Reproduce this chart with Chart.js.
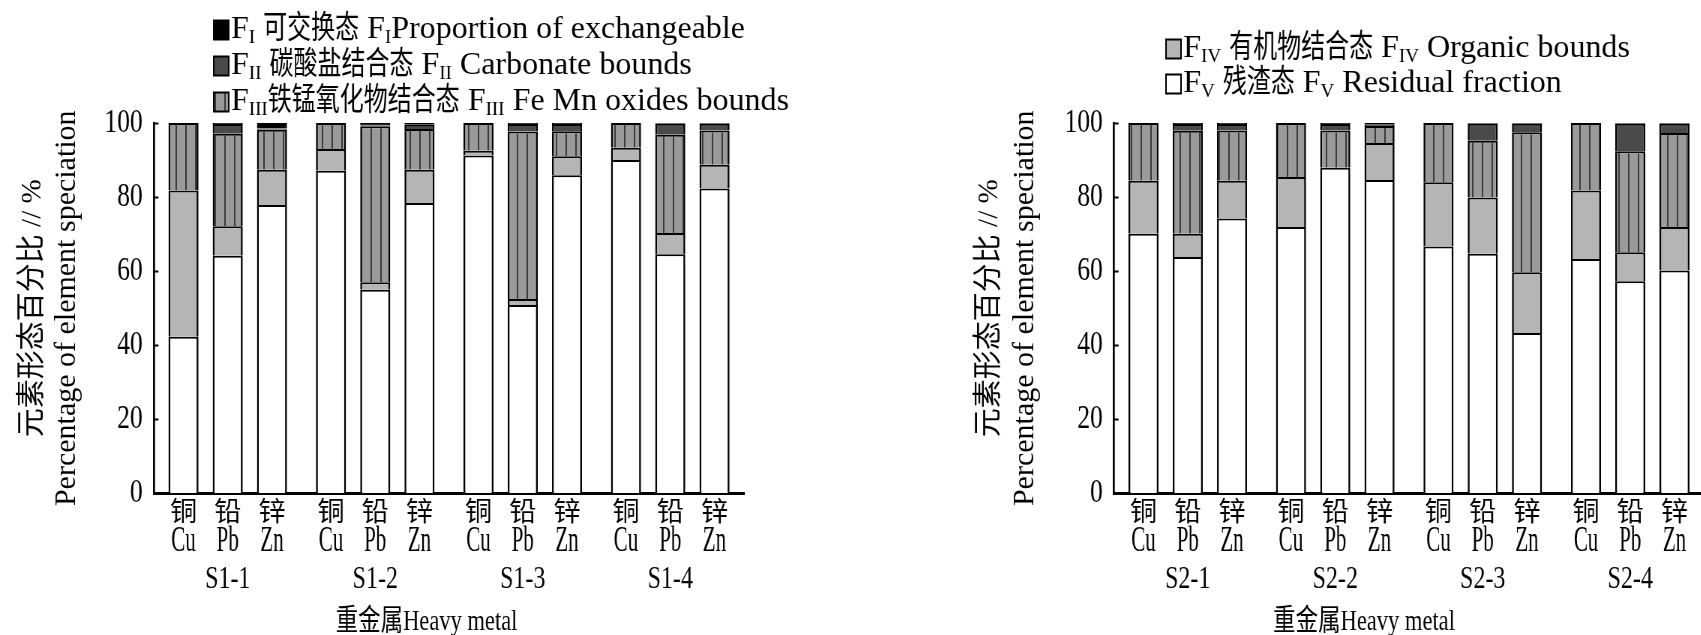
<!DOCTYPE html>
<html>
<head>
<meta charset="utf-8">
<script src="https://cdn.jsdelivr.net/npm/chart.js@4.4.1/dist/chart.umd.min.js"></script>
<style>
  html, body { margin: 0; padding: 0; background: #fff; overflow: hidden; width: 1701px; height: 635px; }
  canvas { position: absolute; top: 0; }
</style>
</head>
<body>
<!-- canvases are drawn wider than shown, so the latin type comes out narrow like the original print -->
<canvas id="chartS1" width="1136" height="635" style="left:0;width:852px;height:635px"></canvas>
<canvas id="chartS2" width="1152" height="635" style="left:848px;width:864px;height:635px"></canvas>
<script>
// categories
var sites1 = ["S1-1", "S1-2", "S1-3", "S1-4"];
var sites2 = ["S2-1", "S2-2", "S2-3", "S2-4"];
var metalsCn = ["铜", "铅", "锌"];
var metalsEn = ["Cu", "Pb", "Zn"];
var yTicks = [0, 20, 40, 60, 80, 100];

// percentages, one value per bar: S?-1 Cu,Pb,Zn, S?-2 Cu,Pb,Zn, ...
var s1FV   = [42.3, 64.2, 77.9, 87.1, 55.0, 78.4, 91.2, 50.9, 85.9, 90.0, 64.6, 82.3];
var s1FIV  = [39.5, 7.9, 9.5, 5.9, 2.0, 9.0, 1.3, 1.6, 5.1, 3.3, 5.7, 6.4];
var s1FIII = [18.2, 25.0, 10.8, 7.0, 42.1, 11.0, 7.5, 45.2, 6.8, 6.7, 26.5, 9.3];
var s1FII  = [0, 2.6, 0.3, 0, 0.2, 1.1, 0, 2.0, 1.9, 0, 3.0, 1.8];
var s1FI   = [0, 0.3, 1.5, 0, 0.7, 0.5, 0, 0.3, 0.3, 0, 0.2, 0.2];

var s2FV   = [70.1, 63.8, 74.2, 71.9, 87.9, 84.6, 66.7, 64.7, 43.3, 63.3, 57.3, 60.2];
var s2FIV  = [14.3, 6.3, 10.2, 13.5, 0, 10.0, 17.3, 15.2, 16.4, 18.5, 7.8, 11.7];
var s2FIII = [15.6, 27.8, 13.6, 14.6, 10.1, 4.6, 16.0, 15.3, 37.8, 18.2, 27.3, 25.4];
var s2FII  = [0, 1.8, 1.7, 0, 1.7, 0.3, 0, 4.6, 2.3, 0, 7.4, 2.5];
var s2FI   = [0, 0.3, 0.3, 0, 0.3, 0.5, 0, 0.2, 0.2, 0, 0.2, 0.2];

// legend texts, _{..} is a subscript
var legendFI   = "F_{I} 可交换态 F_{I}Proportion of exchangeable";
var legendFII  = "F_{II} 碳酸盐结合态 F_{II} Carbonate bounds";
var legendFIII = "F_{III}铁锰氧化物结合态 F_{III} Fe Mn oxides bounds";
var legendFIV  = "F_{IV} 有机物结合态 F_{IV} Organic bounds";
var legendFV   = "F_{V} 残渣态 F_{V} Residual fraction";

var yTitle = ["元素形态百分比 // %", "Percentage of element speciation"];
var xTitle = "重金属Heavy metal";

var FONT = "'Liberation Serif', 'Noto Sans CJK SC', serif";
var SX = 0.75; // shown width / canvas width

// vertical line fill for F III
function hatch(ctx) {
    var c = document.createElement('canvas');
    c.width = 13;
    c.height = 4;
    var g = c.getContext('2d');
    g.fillStyle = '#9a9a9a';
    g.fillRect(0, 0, 13, 4);
    g.fillStyle = '#3a3a3a';
    g.fillRect(0, 0, 2, 4);
    return ctx.createPattern(c, 'repeat');
}

// draw one piece of text with its own horizontal stretch, returns its width
function drawText(ctx, text, x, y, size, stretch, align) {
    ctx.save();
    ctx.translate(x, y);
    ctx.scale(stretch, 1);
    ctx.font = size + 'px ' + FONT;
    ctx.textAlign = align || 'left';
    ctx.fillText(text, 0, 0);
    var w = ctx.measureText(text).width * stretch;
    ctx.restore();
    return w;
}

// legend line: latin kept wide, chinese narrow, subscripts small
function drawRich(ctx, str, x, y) {
    str.split(/(_\{[^}]*\})/).forEach(function(p) {
        if (!p) return;
        if (p.charAt(0) === '_') {
            x += drawText(ctx, p.slice(2, -1), x, y + 8, 19, 1 / SX);
            return;
        }
        p.split(/([\u4e00-\u9fff]+)/).forEach(function(q) {
            if (!q) return;
            if (/[\u4e00-\u9fff]/.test(q)) x += drawText(ctx, q, x, y, 32, 1);
            else x += drawText(ctx, q, x, y, 32, 1 / SX);
        });
    });
}

// metal names, axis titles and legend
var extraPlugin = {
    id: 'extras',
    afterDraw: function(chart, args, opts) {
        var ctx = chart.ctx;
        var area = chart.chartArea;
        ctx.save();
        ctx.fillStyle = '#000';
        ctx.textBaseline = 'middle';
        metalsEn.forEach(function(m, k) {
            chart.getDatasetMeta(k * opts.nFrac).data.forEach(function(bar) {
                drawText(ctx, metalsCn[k], bar.x, 514, 27, 1 / SX, 'center');
                drawText(ctx, m, bar.x, 542, 35, 0.8, 'center');
            });
        });
        // x title
        drawText(ctx, xTitle, (area.left + area.right) / 2 + opts.xTitleShift, 622, 30, 1, 'center');
        // y title, two rotated lines
        var yMid = (area.top + area.bottom) / 2;
        [[yTitle[0], opts.yTitleX[0], 29], [yTitle[1], opts.yTitleX[1], 30]].forEach(function(t) {
            ctx.save();
            ctx.translate(t[1], yMid);
            ctx.scale(1 / SX, 1);
            ctx.rotate(-Math.PI / 2);
            ctx.font = t[2] + 'px ' + FONT;
            ctx.textAlign = 'center';
            ctx.fillText(t[0], 0, 0);
            ctx.restore();
        });
        // legend
        opts.items.forEach(function(it, i) {
            var y = opts.y + i * opts.dy;
            ctx.fillStyle = chart.data.datasets[it.ds].backgroundColor;
            ctx.fillRect(opts.x, y - 9.5, 20, 19);
            ctx.strokeStyle = '#000';
            ctx.lineWidth = 2;
            ctx.strokeRect(opts.x, y - 9.5, 20, 19);
            ctx.fillStyle = '#000';
            drawRich(ctx, it.text, opts.x + 23, y);
        });
        ctx.restore();
    }
};

function buildChart(id, sites, fracs, legendItems, L) {
    var ctx = document.getElementById(id).getContext('2d');
    var colors = ['#ffffff', '#b5b5b5', hatch(ctx), '#4a4a4a', '#000000'];
    var datasets = [];
    metalsEn.forEach(function(m, k) {
        fracs.forEach(function(arr, j) {
            datasets.push({
                label: m + ' ' + j,
                stack: m,
                data: sites.map(function(s, i) { return arr[i * 3 + k]; }),
                backgroundColor: colors[j],
                borderColor: '#000',
                borderWidth: {top: 2, left: 2.6, right: 2.6, bottom: 0},
                categoryPercentage: 0.9,
                barPercentage: 0.68
            });
        });
    });
    return new Chart(ctx, {
        type: 'bar',
        data: {labels: sites, datasets: datasets},
        plugins: [extraPlugin],
        options: {
            responsive: false,
            animation: false,
            devicePixelRatio: 1,
            layout: {padding: {left: 0, right: L.padRight, top: 123, bottom: 0}},
            plugins: {
                legend: {display: false},
                tooltip: {enabled: false},
                extras: {
                    nFrac: fracs.length, items: legendItems, x: L.legX, y: L.legY, dy: L.legDy,
                    yTitleX: L.yTitleX, xTitleShift: L.xTitleShift
                }
            },
            scales: {
                x: {
                    stacked: true,
                    grid: {display: true, drawOnChartArea: false, drawTicks: false},
                    border: {color: '#000', width: 3},
                    ticks: {color: '#000', font: {family: FONT, size: 32}, padding: 67, maxRotation: 0, autoSkip: false},
                    afterFit: function(s) { s.height = 635 - 493.5; s.paddingLeft = 0; s.paddingRight = 0; }
                },
                y: {
                    stacked: true,
                    min: 0,
                    max: 100,
                    afterBuildTicks: function(s) { s.ticks = yTicks.map(function(v) { return {value: v}; }); },
                    ticks: {color: '#000', font: {family: FONT, size: 34}, padding: 21},
                    grid: {drawOnChartArea: false, drawTicks: true, tickLength: -6, tickWidth: 2, tickColor: '#000'},
                    border: {color: '#000', width: 2.7},
                    afterFit: function(s) { s.width = L.yWidth; s.paddingTop = 0; s.paddingBottom = 0; }
                }
            }
        }
    });
}

// S1 chart (left)
var chartS1 = buildChart('chartS1', sites1, [s1FV, s1FIV, s1FIII, s1FII, s1FI], [
    {ds: 4, text: legendFI},
    {ds: 3, text: legendFII},
    {ds: 2, text: legendFIII}
], {padRight: 144, yWidth: 205.3, yTitleX: [43.4, 89.7], xTitleShift: -30, legX: 285, legY: 30, legDy: 36});

// S2 chart (right)
var chartS2 = buildChart('chartS2', sites2, [s2FV, s2FIV, s2FIII, s2FII, s2FI], [
    {ds: 1, text: legendFIV},
    {ds: 0, text: legendFV}
], {padRight: 10.7, yWidth: 354.7, yTitleX: [188.7, 236.4], xTitleShift: -60, legX: 424, legY: 49, legDy: 35});
</script>
</body>
</html>
